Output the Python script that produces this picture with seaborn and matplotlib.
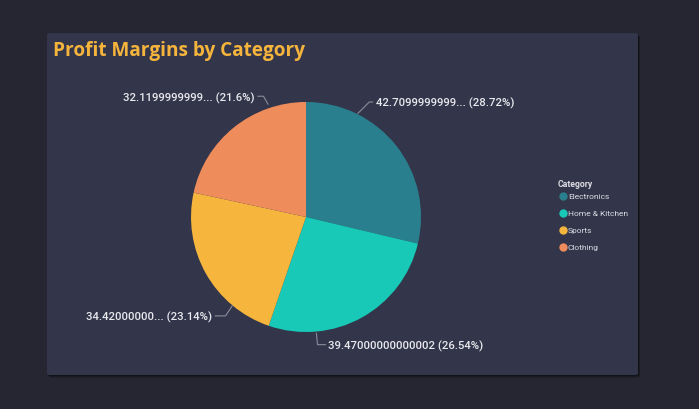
import matplotlib
matplotlib.use("Agg")
import matplotlib.pyplot as plt
import seaborn as sns
import numpy as np
from matplotlib.patches import FancyBboxPatch
from matplotlib.lines import Line2D

categories = ["Electronics", "Home & Kitchen", "Sports", "Clothing"]
values = [42.709999999999994, 39.47000000000002, 34.42000000000001, 32.119999999999996]
value_texts = ["42.7099999999...", "39.47000000000002", "34.42000000...", "32.1199999999..."]
colors = ["#2a7f8e", "#18c9b8", "#f6b63d", "#ef8c5b"]

sns.set_theme(style="dark")
plt.rcParams['font.family'] = ['Roboto', 'DejaVu Sans']

BG = "#252631"
CARD = "#33364a"
fig = plt.figure(figsize=(6.99, 4.09), dpi=100)
fig.patch.set_facecolor(BG)

# card with shadow
for off, a in [(0.006, 0.25), (0.003, 0.3)]:
    fig.patches.append(FancyBboxPatch((0.0672 + off*0.5, 0.0831 - off), 0.8455, 0.836,
                                      boxstyle="round,pad=0,rounding_size=0.004",
                                      transform=fig.transFigure, facecolor="black",
                                      alpha=a, edgecolor="none", zorder=-2))
fig.patches.append(FancyBboxPatch((0.0672, 0.0831), 0.8455, 0.836,
                                  boxstyle="round,pad=0,rounding_size=0.004",
                                  transform=fig.transFigure, facecolor=CARD,
                                  edgecolor="none", zorder=-1))

fig.text(0.0762, 0.876, "Profit Margins by Category", color="#f5b43c",
         fontsize=13.7, fontweight="bold", family=["Open Sans", "DejaVu Sans"],
         va="center", ha="left")

ax = fig.add_axes([0.2239, 0.1039, 0.4278, 0.7311])
ax.set_zorder(3)
ax.set_facecolor("none")

wedges, _ = ax.pie(values, colors=colors, startangle=90, counterclock=False,
                   radius=1.0, wedgeprops=dict(linewidth=0))
ax.set_xlim(-1.3, 1.3)
ax.set_ylim(-1.3, 1.3)
ax.set_aspect("equal")
ax.axis("off")

total = sum(values)
pcts = [v / total * 100 for v in values]
pct_texts = []
for p in pcts:
    s = f"{p:.2f}".rstrip("0").rstrip(".")
    pct_texts.append(s)
labels = [f"{t} ({p}%)" for t, p in zip(value_texts, pct_texts)]

# leader line layout: (edge point, elbow, end of horizontal, ha)
layout = [
    ((0.45, 0.90), (0.55, 1.0), (0.58, 1.0), "left"),
    ((0.09, -1.01), (0.10, -1.11), (0.17, -1.11), "left"),
    ((-0.64, -0.77), (-0.70, -0.86), (-0.79, -0.86), "right"),
    ((-0.33, 0.98), (-0.37, 1.05), (-0.42, 1.05), "right"),
]
lc = "#8a8c99"
for lab, (p0, p1, p2, ha) in zip(labels, layout):
    ax.plot([p0[0], p1[0], p2[0]], [p0[1], p1[1], p2[1]], color=lc, lw=0.8,
            clip_on=False)
    dx = 0.025 if ha == "left" else -0.025
    ax.text(p2[0] + dx, p2[1] - 0.015, lab, ha=ha, va="center", color="#e8e8ee",
            fontsize=8.2, fontweight="medium", clip_on=False)

fig.text(0.798, 0.548, "Category", color="#dcdce4", fontsize=6.2,
         fontweight="bold", ha="left", va="center")
handles = [Line2D([0], [0], marker="o", linestyle="none", markersize=5,
                  markerfacecolor=c, markeredgecolor=c) for c in colors]
leg = fig.legend(handles, categories, loc="upper left",
                 bbox_to_anchor=(0.800, 0.527), frameon=False,
                 fontsize=6, labelcolor="#dcdce4",
                 handletextpad=0.25, labelspacing=1.2, borderaxespad=0,
                 borderpad=0, handlelength=0.8)

fig.savefig("out.png", dpi=100, facecolor=fig.get_facecolor())
